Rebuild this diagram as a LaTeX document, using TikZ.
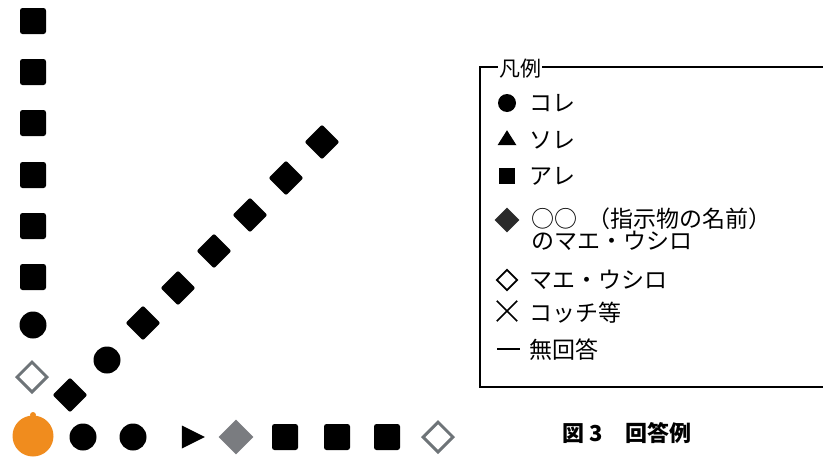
\documentclass[tikz,border=0pt]{standalone}
\usepackage{fontspec}
\newfontfamily\jp{Noto Sans CJK JP}
\usetikzlibrary{shapes.geometric}
\definecolor{orng}{HTML}{F08C1E}
\definecolor{gdia}{HTML}{7A7C80}
\definecolor{gline}{HTML}{6E7478}
\definecolor{ddia}{HTML}{2A2A2A}
\tikzset{
  sq/.style={rectangle,fill=black,rounded corners=2.5pt,minimum size=26pt,inner sep=0pt},
  dot/.style={circle,fill=black,minimum size=27pt,inner sep=0pt},
  bdia/.style={diamond,fill=black,rounded corners=2pt,minimum size=35pt,inner sep=0pt},
  gdiam/.style={diamond,fill=gdia,minimum size=35pt,inner sep=0pt},
  hdia/.style={diamond,draw=gline,line width=3pt,minimum size=31pt,inner sep=0pt},
  lgtext/.style={anchor=west,font=\jp\fontsize{23}{22}\selectfont,inner sep=0pt,align=left},
}
\begin{document}
\begin{tikzpicture}[x=1pt,y=-1pt]
\useasboundingbox (0,0) rectangle (823,469);
% left column
\node[sq] (l1) at (33,21) {};
\node[sq] (l2) at (33,72) {};
\node[sq] (l3) at (33,123) {};
\node[sq] (l4) at (33,175) {};
\node[sq] (l5) at (33,226) {};
\node[sq] (l6) at (33,277) {};
\node[dot] (l7) at (33,325) {};
\node[hdia] (l8) at (32,377) {};
% corner
\node[circle,fill=orng,minimum size=41pt,inner sep=0pt] (c0) at (33,436) {};
\node[circle,fill=orng,minimum size=6pt,inner sep=0pt] (c0s) at (33,415) {};
% bottom row
\node[dot] (b1) at (83,437) {};
\node[dot] (b2) at (133,437) {};
\node[isosceles triangle,isosceles triangle stretches,fill=black,minimum width=23pt,minimum height=23pt,inner sep=0pt] (b3) at (189,437) {};
\node[gdiam] (b4) at (236,437) {};
\node[sq] (b5) at (285,437) {};
\node[sq] (b6) at (337,437) {};
\node[sq] (b7) at (387,437) {};
\node[hdia] (b8) at (438,437) {};
% diagonal
\node[bdia] (d1) at (70,395) {};
\node[dot] (d2) at (107,360) {};
\node[bdia] (d3) at (143,323) {};
\node[bdia] (d4) at (178,288) {};
\node[bdia] (d5) at (214,251) {};
\node[bdia] (d6) at (250,215) {};
\node[bdia] (d7) at (286,178) {};
\node[bdia] (d8) at (322,142) {};
% legend box
\draw[line width=1.4pt] (830,67) -- (480,67) -- (480,387) -- (830,387);
\node[fill=white,inner xsep=1pt,inner ysep=0pt,font=\jp\fontsize{21}{21}\selectfont] (lgt) at (520,69) {凡例};
\node[circle,fill=black,minimum size=18pt,inner sep=0pt] (s1) at (507,103) {};
\node[lgtext] (t1) at (529,103) {コレ};
\node[isosceles triangle,isosceles triangle stretches,shape border rotate=90,fill=black,minimum width=19pt,minimum height=15pt,inner sep=0pt] (s2) at (507,140) {};
\node[lgtext] (t2) at (529,140) {ソレ};
\node[rectangle,fill=black,minimum size=16pt,inner sep=0pt] (s3) at (507,176) {};
\node[lgtext] (t3) at (529,176) {アレ};
\node[diamond,fill=ddia,minimum size=25pt,inner sep=0pt] (s4) at (507,220) {};
\node[lgtext] (t4) at (531,229) {○○\hspace{0.45em}（指示物の名前）\\のマエ・ウシロ};
\node[diamond,draw=black,line width=1.8pt,minimum size=21pt,inner sep=0pt] (s5) at (507,280) {};
\node[lgtext] (t5) at (529,280) {マエ・ウシロ};
\node[minimum width=20pt,minimum height=20pt,inner sep=0pt] (s6) at (507,311) {};
\draw[line width=1.6pt] (s6.north west) -- (s6.south east) (s6.north east) -- (s6.south west);
\node[lgtext] (t6) at (529,313) {コッチ等};
\node[rectangle,fill=black,minimum width=23pt,minimum height=2.6pt,inner sep=0pt] (s7) at (508,349) {};
\node[lgtext] (t7) at (529,350) {無回答};
% caption
\node[font=\jp\bfseries\fontsize{22}{22}\selectfont,inner sep=0pt] (cap) at (627,433) {図 3\hspace{1em}回答例};
\end{tikzpicture}
\end{document}
